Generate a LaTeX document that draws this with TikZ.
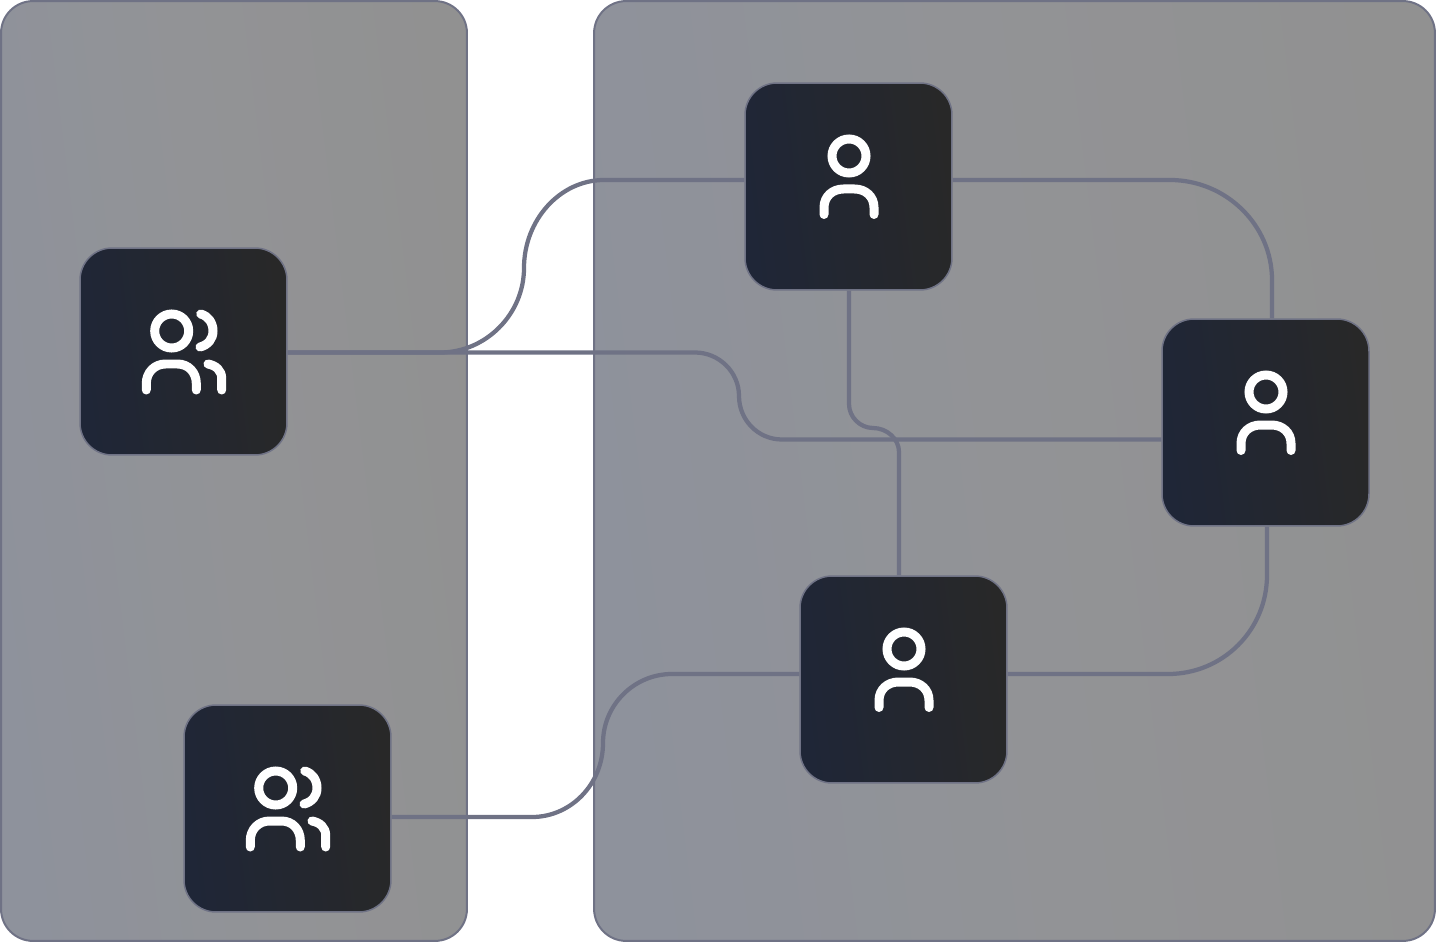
\documentclass[tikz,border=0pt]{standalone}
\usepackage{tikz}
\usetikzlibrary{calc}
\definecolor{panel-left}{HTML}{8E929C}
\definecolor{panel-mid}{HTML}{929396}
\definecolor{panel-right}{HTML}{919191}
\definecolor{box-left}{HTML}{1F2637}
\definecolor{box-right}{HTML}{282828}
\definecolor{wire-gray}{HTML}{6F7285}

\tikzset{
	panel/.style={draw=wire-gray,line width=0.04cm,rounded corners=0.64cm,left color=panel-left,right color=panel-right,middle color=panel-mid,shading angle=97,inner sep=0},
	userbox/.style={draw=wire-gray,line width=0.03cm,rounded corners=0.64cm,left color=box-left,right color=box-right,shading angle=97,minimum size=4.14cm,inner sep=0},
	wire/.style={draw=wire-gray,line width=0.085cm},
	glyph/.style={draw=white,line width=0.18cm,line cap=round},
	pics/personicon/.style={code={
		\draw [glyph] (0.5,-30.5) circle (17);
		\draw [glyph] (-24.5,28) -- (-24.5,21) .. controls (-24.5,10) and (-16,2.5) .. (-5,2.5) -- (6,2.5) .. controls (17,2.5) and (25.5,10) .. (25.5,21) -- (25.5,28);
	}},
	pics/groupicon/.style={code={
		\draw [glyph] (-11.8,-20.5) circle (17);
		\draw [glyph] (-37.2,38.5) -- (-37.2,32) .. controls (-37.2,21) and (-29,12.5) .. (-18,12.5) -- (-6,12.5) .. controls (5,12.5) and (12.8,21) .. (12.8,32) -- (12.8,38.5);
		\draw [glyph] (17.2,-37.5) .. controls (24.5,-35.5) and (29.5,-29) .. (29.5,-20.5) .. controls (29.5,-12.5) and (24.5,-6.5) .. (16.5,-4.5);
		\draw [glyph] (24.5,12.5) .. controls (32.5,14) and (38.2,19) .. (38.2,27) -- (38.2,38.5);
	}},
}

\begin{document}
\begin{tikzpicture}[x=0.02cm,y=-0.02cm]

	\useasboundingbox (0,0) rectangle (1436,942);

	%--- PANELS -----------------------------

	\node [panel,minimum width=9.32cm,minimum height=18.8cm] (panelL) at (234,471) {};
	\node [panel,minimum width=16.82cm,minimum height=18.8cm] (panelR) at (1014.5,471) {};

	%--- USER BOXES -------------------------

	\node [userbox] (groupA) at (183.5,351.5) {};
	\node [userbox] (groupB) at (287.5,808.5) {};
	\node [userbox] (userC) at (848.5,186.5) {};
	\node [userbox] (userD) at (1265.5,422.5) {};
	\node [userbox] (userE) at (903.5,679.5) {};

	%--- WIRES ------------------------------

	% group A to user C
	\draw [wire] ($(groupA.east)+(0,1)$) -- (440,352.5) .. controls (486,352.5) and (524,314) .. (524,268)
		.. controls (524,220) and (560,180) .. (604,180) -- ($(userC.west)+(0,-6.5)$);

	% group A to user D
	\draw [wire] ($(groupA.east)+(0,1)$) -- (695,352.5) .. controls (719,352.5) and (739,372) .. (739,396)
		.. controls (739,420) and (758,439.5) .. (782,439.5) -- ($(userD.west)+(0,17)$);

	% user C to user E
	\draw [wire] ($(userC.south)+(0.5,0)$) -- (849,404) .. controls (849,417) and (860,428) .. (873,428)
		.. controls (887,428) and (899,439) .. (899,452) -- ($(userE.north)+(-4.5,0)$);

	% user C to user D
	\draw [wire] ($(userC.east)+(0,-6.5)$) -- (1170,180) .. controls (1226,180) and (1272,225) .. (1272,280)
		-- ($(userD.north)+(6.5,0)$);

	% user D to user E
	\draw [wire] ($(userD.south)+(1.5,0)$) -- (1267,575) .. controls (1267,630) and (1223,674) .. (1168,674)
		-- ($(userE.east)+(0,-5.5)$);

	% user E to group B
	\draw [wire] ($(userE.west)+(0,-5.5)$) -- (672,674) .. controls (634,674) and (603,705) .. (603,743)
		.. controls (603,784) and (571,817) .. (532,817) -- ($(groupB.east)+(0,8.5)$);

	%--- ICONS ------------------------------

	\pic at (groupA) {groupicon};
	\pic at (groupB) {groupicon};
	\pic at (userC) {personicon};
	\pic at (userD) {personicon};
	\pic at (userE) {personicon};

\end{tikzpicture}
\end{document}
